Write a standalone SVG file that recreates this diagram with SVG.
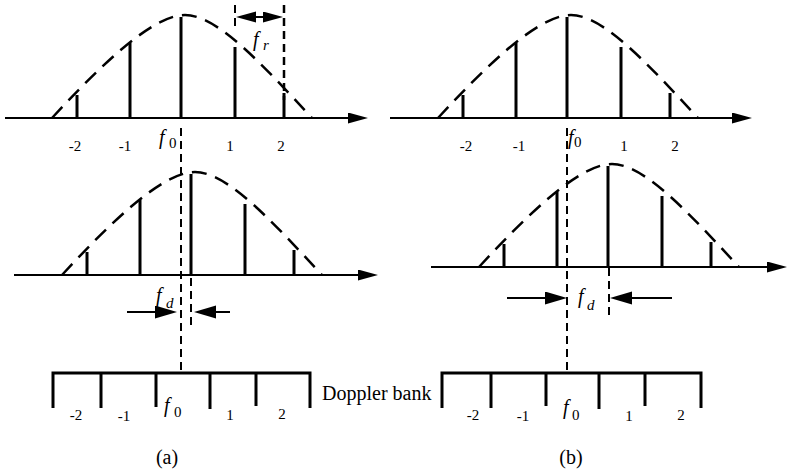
<svg xmlns="http://www.w3.org/2000/svg" width="788" height="476" viewBox="0 0 788 476">
<style>
.axis{stroke:#000;stroke-width:2;fill:none}
.stem{stroke:#000;stroke-width:3;fill:none}
.env{stroke:#000;stroke-width:2.5;fill:none;stroke-dasharray:15 9}
.guide{stroke:#000;stroke-width:2;fill:none;stroke-dasharray:8 5}
.bank{stroke:#000;stroke-width:3;fill:none;stroke-linejoin:miter}
.arr{stroke:#000;stroke-width:2;fill:none}
text{font-family:"Liberation Serif","Times New Roman",serif;fill:#000}
.num{font-size:15px;text-anchor:middle}
.fi{font-size:20px;font-style:italic}
.sub{font-size:15px}
.subi{font-size:15px;font-style:italic}
.cap{font-size:20px}
</style>
<defs>
<marker id="ah" markerUnits="userSpaceOnUse" markerWidth="20" markerHeight="12" refX="14" refY="5.5" orient="auto"><path d="M0,0 L20,5.5 L0,11 z" fill="#000"/></marker>
<marker id="ahd" markerUnits="userSpaceOnUse" markerWidth="22" markerHeight="14" refX="16" refY="6.5" orient="auto"><path d="M0,0 L22,6.5 L0,13 z" fill="#000"/></marker>
<g id="spec">
<path class="env" d="M-129,0 C-78,-55 -28,-103 4,-103 C36,-103 80,-55 131,0"/>
<path class="stem" d="M-104,0V-23 M-51,0V-75 M0,0V-101 M54,0V-71 M103,0V-25"/>
</g>
</defs>

<g id="a-top">
<line class="axis" x1="5" y1="118" x2="362" y2="118" marker-end="url(#ah)"/>
<use href="#spec" transform="translate(181,118)"/>
<text class="num" x="75" y="151">-2</text>
<text class="num" x="125" y="151">-1</text>
<text class="num" x="230" y="151">1</text>
<text class="num" x="281" y="151">2</text>
<text class="fi" x="159" y="144">f</text><text class="sub" x="169" y="148">0</text>
</g>

<g id="a-fr">
<text class="fi" x="253" y="46">f</text><text class="subi" x="263" y="50">r</text>
</g>

<g id="a-mid">
<line class="axis" x1="14" y1="275" x2="372" y2="275" marker-end="url(#ah)"/>
<use href="#spec" transform="translate(191,275)"/>
<text class="fi" x="156" y="302">f</text><text class="subi" x="166" y="308">d</text>
</g>

<g id="a-bank">
<path class="bank" d="M53,408V373H310V408 M101,373V408 M156,373V407 M210,373V409 M256,373V406"/>
<text class="num" x="76" y="420">-2</text>
<text class="num" x="124" y="421">-1</text>
<text class="fi" x="164" y="412">f</text><text class="sub" x="174" y="417">0</text>
<text class="num" x="230" y="420">1</text>
<text class="num" x="282" y="419">2</text>
<text class="cap" x="322" y="400">Doppler bank</text>
<text class="cap" x="167" y="464" text-anchor="middle">(a)</text>
</g>

<g id="b-top">
<line class="axis" x1="390" y1="118" x2="746" y2="118" marker-end="url(#ah)"/>
<use href="#spec" transform="translate(567,118)"/>
<text class="num" x="466" y="151">-2</text>
<text class="num" x="519" y="151">-1</text>
<text class="num" x="624" y="151">1</text>
<text class="num" x="675" y="151">2</text>
<text class="fi" x="568" y="144">f</text><text class="sub" x="574" y="147">0</text>
</g>

<g id="b-mid">
<line class="axis" x1="431" y1="267" x2="781" y2="267" marker-end="url(#ah)"/>
<use href="#spec" transform="translate(608,267)"/>
<text class="fi" x="578" y="303">f</text><text class="subi" x="587" y="310">d</text>
</g>

<g id="b-bank">
<path class="bank" d="M442,408V373H701V408 M491,373V408 M546,373V406 M599,373V409 M645,373V406"/>
<text class="num" x="473" y="420">-2</text>
<text class="num" x="523" y="421">-1</text>
<text class="fi" x="563" y="414">f</text><text class="sub" x="572" y="420">0</text>
<text class="num" x="629" y="421">1</text>
<text class="num" x="681" y="420">2</text>
<text class="cap" x="571" y="464" text-anchor="middle">(b)</text>
</g>

<g id="connectors">
<line class="guide" x1="235" y1="5" x2="235" y2="27"/>
<line class="guide" x1="284" y1="5" x2="284" y2="100" style="stroke-width:2.5"/>
<line class="arr" x1="259" y1="17" x2="242" y2="17" marker-end="url(#ah)"/>
<line class="arr" x1="259" y1="17" x2="277" y2="17" marker-end="url(#ah)"/>
<line class="guide" x1="181" y1="128" x2="181" y2="372"/>
<line class="guide" x1="191" y1="278" x2="191" y2="328"/>
<line class="arr" x1="127" y1="312" x2="171" y2="312" marker-end="url(#ahd)"/>
<line class="arr" x1="230" y1="312" x2="200" y2="312" marker-end="url(#ahd)"/>
<line class="guide" x1="567" y1="128" x2="567" y2="372"/>
<line class="guide" x1="609" y1="268" x2="609" y2="317"/>
<line class="arr" x1="507" y1="298" x2="561" y2="298" marker-end="url(#ahd)"/>
<line class="arr" x1="672" y1="298" x2="616" y2="298" marker-end="url(#ahd)"/>
</g>
</svg>
